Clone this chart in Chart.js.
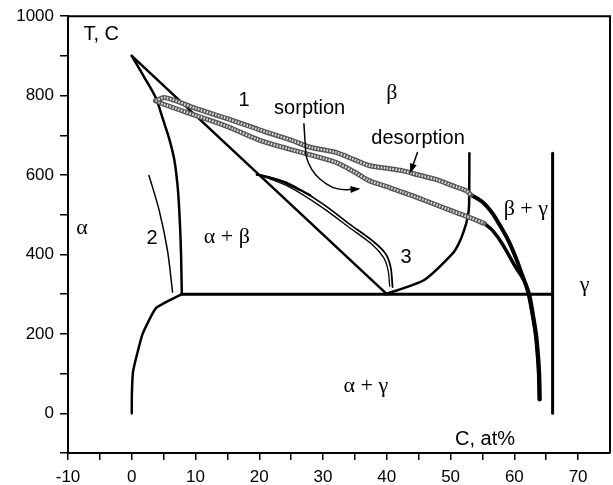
<!DOCTYPE html>
<html>
<head>
<meta charset="utf-8">
<script src="https://cdn.jsdelivr.net/npm/chart.js@4"></script>
<style>
  html, body { margin: 0; padding: 0; background: #fff; }
</style>
</head>
<body>
<canvas id="phase" width="613" height="485"></canvas>
<script>
  // phase boundaries, [C at%, T in C]
  const tieLine = [[0, 900], [40, 300]];
  const alphaSolvus = [[0, 900], [1.9, 848], [3.75, 795], [4.9, 740], [5.9, 690], [6.7, 636], [7.2, 570],
    [7.45, 511], [7.65, 440], [7.75, 385], [7.85, 300]];
  const alphaLow = [[7.85, 300], [3.8, 265], [1.7, 200], [0.85, 150], [0.2, 105], [0.02, 50], [0, 0]];
  const eutectoid = [[7.85, 300], [66, 300]];
  const gammaLine = [[66, 0], [66, 655]];
  const betaLine = [[39.8, 300], [45.8, 335], [50.3, 402], [51.3, 428], [52.1, 460], [52.7, 495],
    [52.9, 525], [52.95, 655]];
  const curve2 = [[2.7, 599], [4.3, 511], [5.6, 410], [6.4, 305]];

  // loop 1
  const desorption = [[3.75, 787], [5.2, 795], [10, 768], [15, 742], [20, 714], [25, 688], [28, 670],
    [32, 657], [35, 638], [37.2, 624], [40, 617], [42.4, 611], [45, 600], [47.7, 589], [50, 575],
    [52.4, 561], [53.2, 550]];
  const sorption = [[3.75, 787], [5.2, 777], [10, 750], [15, 722], [20, 688], [25, 664], [30, 642],
    [32, 632], [35, 607], [37.2, 586], [40, 571], [42.4, 557], [45, 542], [50, 511], [53, 493],
    [55.3, 478]];
  const desorptionTail = [[53.2, 550], [55, 532], [56.5, 505], [57.6, 477], [59, 437], [60.2, 393],
    [61.3, 345], [62.3, 301], [62.9, 250], [63.4, 200], [63.7, 150], [63.9, 100], [64, 35]];
  const sorptionTail = [[55.3, 478], [56.6, 460], [58.1, 427], [60.2, 368], [61.5, 335], [62.2, 300],
    [62.8, 250], [63.3, 200], [63.6, 150], [63.8, 100], [63.9, 35]];

  // loop 3
  const loop3Outer = [[19.6, 601], [20.5, 599], [24.7, 578], [29.9, 528], [34.1, 477], [37.7, 435],
    [39.8, 402], [40.6, 368], [40.9, 318]];
  const loop3Mid = [[19.6, 601], [21, 596], [23, 587], [25.5, 569], [28, 549]];
  const loop3Inner = [[19.6, 601], [20.5, 597], [24.7, 570], [29.9, 518], [34.1, 468], [37.7, 425],
    [39.5, 392], [40.2, 360], [40.45, 320]];

  const sorptionArrow = [[27, 729], [27.2, 680], [27.4, 645], [28.2, 615], [29.5, 590], [31.5, 569],
    [33.5, 563], [35.4, 565]];
  const desorptionArrow = [[44.8, 657], [43.8, 611]];

  const xTicks = [-10, -5, 0, 5, 10, 15, 20, 25, 30, 35, 40, 45, 50, 55, 60, 65, 70];
  const yTicks = [-100, 0, 100, 200, 300, 400, 500, 600, 700, 800, 900, 1000];

  const notes = [
    { text: "T, C", x: -4.8, y: 955 },
    { text: "1", x: 17.6, y: 787 },
    { text: "sorption", x: 27.9, y: 767 },
    { text: "β", x: 40.8, y: 805, serif: true },
    { text: "desorption", x: 44.9, y: 692 },
    { text: "β + γ", x: 61.8, y: 515, serif: true },
    { text: "α", x: -7.8, y: 465, serif: true },
    { text: "2", x: 3.2, y: 440 },
    { text: "α + β", x: 14.9, y: 443, serif: true },
    { text: "3", x: 43, y: 393 },
    { text: "γ", x: 71, y: 322, serif: true },
    { text: "α + γ", x: 36.7, y: 67, serif: true },
    { text: "C, at%", x: 55.4, y: -65 },
  ];

  const pts = (arr) => arr.map(([x, y]) => ({ x, y }));

  function line(data, width, opts) {
    return Object.assign({
      data: pts(data),
      showLine: true,
      borderColor: "#000",
      borderWidth: width,
      pointRadius: 0,
      tension: 0.3,
      borderCapStyle: "round",
      borderJoinStyle: "round",
    }, opts || {});
  }

  const frameAndText = {
    id: "frameAndText",
    afterDatasetsDraw(chart) {
      const { ctx, chartArea: a, scales } = chart;
      ctx.save();
      // arrow heads
      chart.data.datasets.forEach((ds, i) => {
        if (!ds.arrow) return;
        const el = chart.getDatasetMeta(i).data;
        const p1 = el[el.length - 2], p2 = el[el.length - 1];
        const ang = Math.atan2(p2.y - p1.y, p2.x - p1.x);
        ctx.fillStyle = "#000";
        ctx.beginPath();
        ctx.moveTo(p2.x + 3 * Math.cos(ang), p2.y + 3 * Math.sin(ang));
        ctx.lineTo(p2.x - 7 * Math.cos(ang) - 3.5 * Math.sin(ang), p2.y - 7 * Math.sin(ang) + 3.5 * Math.cos(ang));
        ctx.lineTo(p2.x - 7 * Math.cos(ang) + 3.5 * Math.sin(ang), p2.y - 7 * Math.sin(ang) - 3.5 * Math.cos(ang));
        ctx.closePath();
        ctx.fill();
      });
      // top and right borders
      ctx.strokeStyle = "#000";
      ctx.lineWidth = 2;
      ctx.beginPath();
      ctx.moveTo(a.left, a.top);
      ctx.lineTo(a.right, a.top);
      ctx.lineTo(a.right, a.bottom);
      ctx.stroke();
      // labels
      ctx.fillStyle = "#000";
      ctx.textAlign = "center";
      ctx.textBaseline = "middle";
      notes.forEach((n) => {
        ctx.font = n.serif ? "22px 'Liberation Serif'" : "20px 'Liberation Sans'";
        ctx.fillText(n.text, scales.x.getPixelForValue(n.x), scales.y.getPixelForValue(n.y));
      });
      ctx.restore();
    },
  };

  // lower index is drawn on top, so the light hatch comes before its dark outline
  new Chart(document.getElementById("phase"), {
    type: "scatter",
    data: {
      datasets: [
        line(sorptionArrow, 1.5, { arrow: true }),
        line(desorptionArrow, 1.5, { tension: 0, arrow: true }),
        line(desorption, 2.4, { borderColor: "#e4e4e4", borderDash: [1.5, 1.5], borderCapStyle: "butt" }),
        line(desorption, 5, { borderColor: "#555" }),
        line(sorption, 2.4, { borderColor: "#e4e4e4", borderDash: [1.5, 1.5], borderCapStyle: "butt" }),
        line(sorption, 5, { borderColor: "#555" }),
        line(desorptionTail, 4),
        line(sorptionTail, 3.5),
        line(tieLine, 2.5, { tension: 0 }),
        line(alphaSolvus, 2.5),
        line(alphaLow, 2.5, { tension: 0.15 }),
        line(eutectoid, 3, { tension: 0 }),
        line(gammaLine, 3, { tension: 0 }),
        line(betaLine, 2.5, { tension: 0.2 }),
        line(curve2, 1.5),
        line(loop3Outer, 1.8),
        line(loop3Mid, 2.2),
        line(loop3Inner, 1.3),
      ],
    },
    options: {
      responsive: false,
      animation: false,
      devicePixelRatio: 1,
      layout: { padding: { left: 0, right: 3, top: 15, bottom: 0 } },
      plugins: { legend: { display: false }, tooltip: { enabled: false } },
      scales: {
        x: {
          type: "linear",
          min: -10,
          max: 75,
          afterBuildTicks: (s) => { s.ticks = xTicks.map((v) => ({ value: v })); },
          afterFit: (s) => { s.height = 32; },
          grid: { drawOnChartArea: false, drawTicks: true, tickLength: 7, color: "#000", lineWidth: 1.5 },
          border: { color: "#000", width: 2 },
          ticks: {
            color: "#000",
            padding: 7,
            maxRotation: 0,
            autoSkip: false,
            font: { family: "'Liberation Sans'", size: 17 },
            callback: (v) => (v % 10 === 0 ? v : ""),
          },
        },
        y: {
          type: "linear",
          min: -100,
          max: 1000,
          afterBuildTicks: (s) => { s.ticks = yTicks.map((v) => ({ value: v })); },
          afterFit: (s) => { s.width = 68; },
          grid: { drawOnChartArea: false, drawTicks: true, tickLength: 8, color: "#000", lineWidth: 1.5 },
          border: { color: "#000", width: 2 },
          ticks: {
            color: "#000",
            padding: 6,
            autoSkip: false,
            font: { family: "'Liberation Sans'", size: 17 },
            callback: (v) => (v >= 0 && v % 200 === 0 ? v : ""),
          },
        },
      },
    },
    plugins: [frameAndText],
  });
</script>
</body>
</html>
